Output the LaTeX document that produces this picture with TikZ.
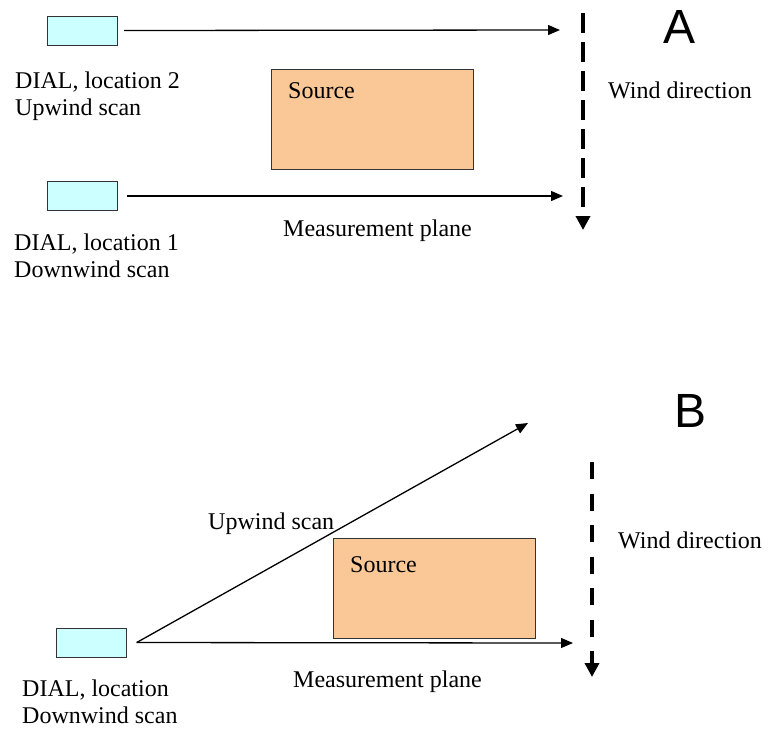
\documentclass[tikz,border=0pt]{standalone}
\usepackage{fontspec}
\setmainfont{Liberation Serif}
\newfontfamily\panelfont{Liberation Sans}
\usetikzlibrary{arrows.meta, positioning}
\definecolor{dialblue}{RGB}{204,255,255}
\definecolor{sourceorange}{RGB}{250,200,150}

\begin{document}
\begin{tikzpicture}[x=1pt, y=-1pt, font=\fontsize{24}{27}\selectfont,
		dial/.style={draw=black!80, fill=dialblue, minimum width=70pt, minimum height=29pt, inner sep=0},
		source/.style={draw=black!80, fill=sourceorange, minimum width=202pt, minimum height=100pt, inner sep=0},
		lbl/.style={anchor=base west, inner sep=0},
		dialcaption/.style={anchor=north west, inner sep=0, align=left},
		scan/.style={line width=1.3pt, -{Triangle[length=12pt, width=10pt]}},
		wind/.style={line width=3.5pt, dash pattern=on 20pt off 9pt, -{Triangle[length=14pt, width=14pt]}},
		panel/.style={anchor=base, inner sep=0, font=\panelfont\fontsize{48}{48}\selectfont}]
	\useasboundingbox (0,0) rectangle (770,729);
	\node[dial] (dialtwo) at (82,30.5) {};
	\node[dial] (dialone) at (82,196) {};
	\node[source] (srcA) at (372,119) {};
	\node[lbl] (srcAtxt) at (288,98) {Source};
	\node[dialcaption] (dialtwotxt) at (15,72) {DIAL, location 2\\Upwind scan};
	\node[dialcaption] (dialonetxt) at (14,234) {DIAL, location 1\\Downwind scan};
	\node[lbl] (planeA) at (283,236) {Measurement plane};
	\node[lbl] (windA) at (608,98) {Wind direction};
	\node[panel] (A) at (679,43) {A};
	\coordinate (scantwo) at (560,30);
	\coordinate (scanone) at (563,196);
	\coordinate (windAtop) at (583,13);
	\coordinate (windAend) at (583,230);
	\draw[scan] ([xshift=7pt]dialtwo.east) -- (scantwo);
	\draw[scan] ([xshift=10pt]dialone.east) -- (scanone);
	\draw[wind] (windAtop) -- (windAend);

	\node[dial] (dialB) at (91.5,642.5) {};
	\node[source] (srcB) at (434,588) {};
	\node[lbl] (srcBtxt) at (350,572) {Source};
	\node[lbl] (upB) at (208,529) {Upwind scan};
	\node[lbl] (planeB) at (293,687) {Measurement plane};
	\node[dialcaption] (dialBtxt) at (22,680) {DIAL, location\\Downwind scan};
	\node[lbl] (windB) at (618,548) {Wind direction};
	\node[panel] (B) at (690,427) {B};
	\coordinate (upend) at (528,423);
	\coordinate (planeend) at (573,643);
	\coordinate (windBtop) at (592,462);
	\coordinate (windBend) at (592,677);
	\draw[scan] ([xshift=10pt]dialB.east) -- (upend);
	\draw[scan] ([xshift=10pt]dialB.east) -- (planeend);
	\draw[wind, dash pattern=on 17pt off 14.5pt] (windBtop) -- (windBend);
\end{tikzpicture}
\end{document}
